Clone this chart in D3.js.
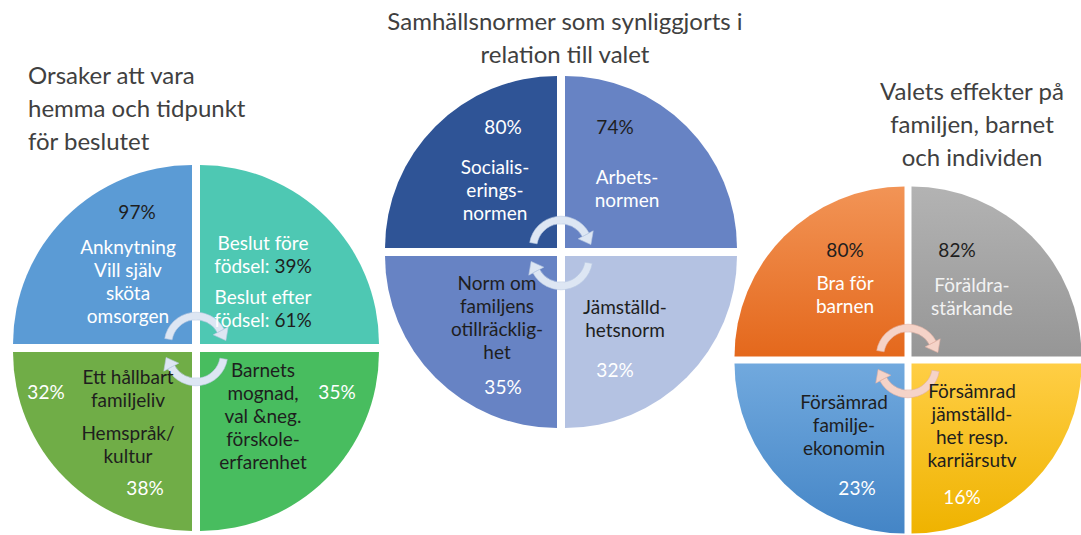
<!DOCTYPE html>
<html lang="sv">
<head>
<meta charset="UTF-8">
<title>Hemmavarande föräldrar</title>
<script src="https://d3js.org/d3.v7.min.js"></script>
<style>
    body { margin: 0; background: #fff; }
    svg { display: block; font-family: Lato, "Open Sans", sans-serif; }
    .title { font-size: 24px; fill: #404040; font-weight: 400; }
    .label { font-size: 19px; }
</style>
</head>
<body>
<div id="chart"></div>
<script>
    // titles for the three circles
    const titles = [
        ["Orsaker att vara", "hemma och tidpunkt", "för beslutet"],
        ["Samhällsnormer som synliggjorts i", "relation till valet"],
        ["Valets effekter på", "familjen, barnet", "och individen"]
    ];

    // quadrant order: TR, BR, BL, TL
    const quadrants = ["TR", "BR", "BL", "TL"];

    // left circle: reasons + timing
    const leftLabels = [
        ["Anknytning", "Vill själv", "sköta", "omsorgen"],
        ["Beslut före", "födsel: "],
        ["Beslut efter", "födsel: "],
        ["Barnets", "mognad,", "val &neg.", "förskole-", "erfarenhet"],
        ["Ett hållbart", "familjeliv"],
        ["Hemspråk/", "kultur"]
    ];
    const leftValues = [97, 39, 61, 35, 32, 38];

    // middle circle: norms
    const midLabels = [
        ["Socialis-", "erings-", "normen"],
        ["Arbets-", "normen"],
        ["Jämställd-", "hetsnorm"],
        ["Norm om", "familjens", "otillräcklig-", "het"]
    ];
    const midValues = [80, 74, 32, 35];

    // right circle: effects
    const rightLabels = [
        ["Bra för", "barnen"],
        ["Föräldra-", "stärkande"],
        ["Försämrad", "jämställd-", "het resp.", "karriärsutv"],
        ["Försämrad", "familje-", "ekonomin"]
    ];
    const rightValues = [80, 82, 16, 23];

    const width = 1081, height = 535;
    const lineH = 23;
    const dark = "#1e1e1e", white = "#ffffff";

    // layout: centre, radius, colours, where each label / value goes (relative to centre)
    const circles = [
        {
            cx: 196, cy: 348, r: 179, gap: 4,
            fills: ["#4ec8b3", "#48bd5f", "#70ad47", "#5b9bd5"],
            arrow: "#dde6f3", arrowStroke: "#b9c9e2",
            title: { x: 28, y: 84, anchor: "start" },
            labels: leftLabels, values: leftValues,
            place: [
                { x: -68, y: -101, c: white, vx: -59, vy: -136, vc: dark },
                { x: 67, y: -105, c: white, inline: true, vc: dark },
                { x: 67, y: -51, c: white, inline: true, vc: dark },
                { x: 67, y: 22, c: dark, vx: 141, vy: 44, vc: white },
                { x: -68, y: 29, c: dark, vx: -150, vy: 44, vc: white },
                { x: -68, y: 85, c: dark, vx: -51, vy: 140, vc: white }
            ]
        },
        {
            cx: 561, cy: 252, r: 172, gap: 4,
            fills: ["#6783c4", "#b4c2e2", "#6783c4", "#2f5496"],
            arrow: "#dde6f3", arrowStroke: "#b9c9e2",
            title: { x: 565, y: 30, anchor: "middle" },
            labels: midLabels, values: midValues,
            place: [
                { x: -66, y: -85, c: white, vx: -58, vy: -125, vc: white },
                { x: 66, y: -75, c: white, vx: 54, vy: -125, vc: dark },
                { x: 64, y: 55, c: dark, vx: 54, vy: 118, vc: white },
                { x: -64, y: 31, c: dark, vx: -58, vy: 135, vc: white }
            ]
        },
        {
            cx: 908, cy: 360, r: 170, gap: 3.5,
            fills: ["url(#gGray)", "url(#gYellow)", "url(#gBlue)", "url(#gOrange)"],
            arrow: "#f5d3c8", arrowStroke: "#e0b0a3",
            title: { x: 972, y: 100, anchor: "middle" },
            labels: rightLabels, values: rightValues,
            place: [
                { x: -63, y: -77, c: white, vx: -63, vy: -110, vc: dark },
                { x: 64, y: -75, c: "#f2f2f2", vx: 49, vy: -110, vc: dark },
                { x: 64, y: 31, c: dark, vx: 54, vy: 137, vc: white },
                { x: -64, y: 42, c: dark, vx: -51, vy: 128, vc: white }
            ]
        }
    ];

    const svg = d3.select("#chart").append("svg")
        .attr("width", width)
        .attr("height", height);

    // vertical gradients for the right circle
    const defs = svg.append("defs");
    [["gOrange", "#f29456", "#e4681c"], ["gGray", "#b3b3b3", "#969696"],
     ["gYellow", "#ffce45", "#efb300"], ["gBlue", "#71a9de", "#4485c6"]].forEach(g => {
        const lg = defs.append("linearGradient").attr("id", g[0])
            .attr("x1", 0).attr("y1", 0).attr("x2", 0).attr("y2", 1);
        lg.append("stop").attr("offset", "0%").attr("stop-color", g[1]);
        lg.append("stop").attr("offset", "100%").attr("stop-color", g[2]);
    });

    const angle = d3.scaleLinear().domain([0, 4]).range([0, 2 * Math.PI]);
    const sx = { TR: 1, BR: 1, BL: -1, TL: -1 };
    const sy = { TR: -1, BR: 1, BL: 1, TL: -1 };

    function polar(a, r) { return [r * Math.sin(a), -r * Math.cos(a)]; }

    // circular arrow band from a0 to a1 with head at a1
    function arrowPath(r, w, a0, a1) {
        const body = d3.arc()({ innerRadius: r - w / 2, outerRadius: r + w / 2, startAngle: a0, endAngle: a1 });
        const hw = 8.5, len = 11;
        const b1 = polar(a1, r - hw), b2 = polar(a1, r + hw), c = polar(a1, r);
        const tip = [c[0] + Math.cos(a1) * len, c[1] + Math.sin(a1) * len];
        return body + `M${b1[0]},${b1[1]}L${b2[0]},${b2[1]}L${tip[0]},${tip[1]}Z`;
    }

    circles.forEach((cfg, ci) => {
        const g = svg.append("g").attr("transform", `translate(${cfg.cx},${cfg.cy})`);

        const arc = d3.arc().innerRadius(0).outerRadius(cfg.r);
        g.selectAll("path.q")
            .data(quadrants)
            .join("path")
            .attr("class", "q")
            .attr("transform", d => `translate(${sx[d] * cfg.gap},${sy[d] * cfg.gap})`)
            .attr("d", (d, i) => arc({ startAngle: angle(i), endAngle: angle(i + 1) }))
            .attr("fill", (d, i) => cfg.fills[i]);

        // the two curved arrows in the middle
        const deg = Math.PI / 180;
        g.append("path")
            .attr("transform", "translate(0,-4)")
            .attr("d", arrowPath(28, 7.5, -80 * deg, 62 * deg))
            .attr("fill", cfg.arrow).attr("stroke", cfg.arrowStroke).attr("stroke-width", 0.6);
        g.append("path")
            .attr("transform", "translate(0,6)")
            .attr("d", arrowPath(28, 7.5, 100 * deg, 242 * deg))
            .attr("fill", cfg.arrow).attr("stroke", cfg.arrowStroke).attr("stroke-width", 0.6);

        // labels
        cfg.labels.forEach((lines, li) => {
            const p = cfg.place[li];
            const t = g.append("text").attr("class", "label")
                .attr("text-anchor", "middle");
            lines.forEach((ln, k) => {
                t.append("tspan")
                    .attr("x", p.x).attr("y", p.y + k * lineH)
                    .attr("dy", "0.35em").attr("fill", p.c).text(ln);
                if (p.inline && k === lines.length - 1) {
                    t.append("tspan").attr("fill", p.vc).text(cfg.values[li] + "%");
                }
            });
            if (!p.inline) {
                g.append("text").attr("class", "label")
                    .attr("text-anchor", "middle")
                    .attr("x", p.vx).attr("y", p.vy).attr("dy", "0.35em")
                    .attr("fill", p.vc)
                    .text(cfg.values[li] + "%");
            }
        });

        // title
        const tt = svg.append("text").attr("class", "title")
            .attr("text-anchor", cfg.title.anchor);
        titles[ci].forEach((ln, k) => {
            tt.append("tspan").attr("x", cfg.title.x).attr("y", cfg.title.y + k * 33).text(ln);
        });
    });
</script>
</body>
</html>
